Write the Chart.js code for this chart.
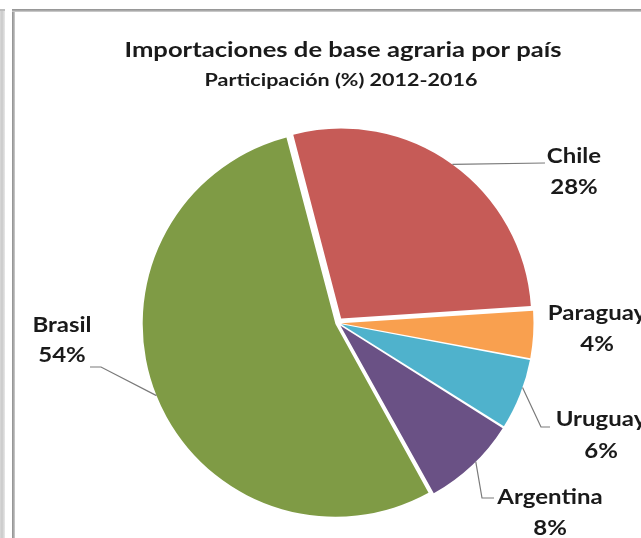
<!DOCTYPE html>
<html>
<head>
<meta charset="utf-8">
<script src="https://cdn.jsdelivr.net/npm/chart.js@4/dist/chart.umd.min.js"></script>
<style>
  html, body { margin: 0; padding: 0; background: #ffffff; overflow: hidden; }
  #wrap { position: relative; width: 641px; height: 538px; background: #fff; }
  #c { position: absolute; left: 0; top: 0; }
  .frameA { position: absolute; left: 0; top: 9px; width: 5px; height: 529px;
            background: linear-gradient(to right, #d9d9d9, #c9c9c9 40%, #e8e8e8); }
  .frameAtop { position: absolute; left: 0; top: 9px; width: 5px; height: 2px; background: #bdbdbd; }
  .frameB { position: absolute; left: 12px; top: 9px; width: 3px; height: 529px;
            background: linear-gradient(to right, #8f8f8f, #a9a9a9, #cfcfcf); }
  .frameBtop { position: absolute; left: 12px; top: 9px; width: 629px; height: 3px;
            background: linear-gradient(to bottom, #8f8f8f, #a9a9a9, #d6d6d6); }
</style>
</head>
<body>
<div id="wrap">
  <canvas id="c" width="641" height="538"></canvas>
  <div class="frameA"></div><div class="frameAtop"></div>
  <div class="frameB"></div><div class="frameBtop"></div>
</div>
<script>
// ---- data ----
const titleText = 'Importaciones de base agraria por país';
const subtitleText = 'Participación (%) 2012-2016';
const categories = ['Chile', 'Paraguay', 'Uruguay', 'Argentina', 'Brasil'];
const shares = [28, 4, 6, 8, 54];
const percentLabels = ['28%', '4%', '6%', '8%', '54%'];

// ---- style ----
const colors = ['#c65b57', '#f9a04f', '#4fb2cc', '#6a5185', '#7f9b45'];
const explodePx = 5.5;
const total = shares.reduce((a, b) => a + b, 0);
// Chart.js arc offset -> translate = offset/4 * (1 + fix), fix = 1 - sin(min(PI, circ))
const offsets = shares.map(v => {
  const circ = v / total * Math.PI * 2;
  const fix = 1 - Math.sin(Math.min(Math.PI, circ));
  return explodePx * 4 / (1 + fix);
});
// label placement (style): block center x, name y, percent y, leader start fraction, leader elbows
const labelStyle = [
  { cx: 574, ny: 157, py: 188, frac: 0.5,  path: [[545, 163]] },
  { cx: 597, ny: 314, py: 345, frac: null, path: [] },
  { cx: 601, ny: 420, py: 452, frac: 0.4,  path: [[541, 427], [550, 427]] },
  { cx: 550, ny: 498, py: 529, frac: 0.45, path: [[482, 498], [494, 498]] },
  { cx: 62,  ny: 326, py: 356, frac: 0.5,  path: [[101, 367], [90, 367]] }
];
const FONT = 'Lato, "Open Sans", sans-serif';
const LABEL_HSCALE = 1.2;

function drawStretched(ctx, text, cx, cy, font, hscale, targetWidth) {
  ctx.save();
  ctx.font = font;
  let s = hscale;
  if (targetWidth) s = targetWidth / ctx.measureText(text).width;
  ctx.translate(cx, cy);
  ctx.scale(s, 1);
  ctx.fillText(text, 0, 0);
  ctx.restore();
}

const labelsPlugin = {
  id: 'excelLabels',
  afterDatasetsDraw(chart) {
    const ctx = chart.ctx;
    const meta = chart.getDatasetMeta(0);
    ctx.save();
    ctx.fillStyle = '#1a1a1a';
    ctx.textAlign = 'center';
    ctx.textBaseline = 'middle';
    drawStretched(ctx, titleText, 343, 50, 'bold 21px ' + FONT, 1, 437);
    drawStretched(ctx, subtitleText, 341, 81, 'bold 16.5px ' + FONT, 1, 273);

    meta.data.forEach((arc, i) => {
      const p = arc.getProps(['x', 'y', 'startAngle', 'endAngle', 'outerRadius', 'circumference'], true);
      const st = labelStyle[i];
      const off = (arc.options.offset || 0) / 4;
      const fix = 1 - Math.sin(Math.min(Math.PI, p.circumference || 0));
      const t = off + off * fix;
      const half = (p.startAngle + p.endAngle) / 2;
      const ox = p.x + Math.cos(half) * t, oy = p.y + Math.sin(half) * t;
      if (st.frac !== null) {
        const a = p.startAngle + st.frac * (p.endAngle - p.startAngle);
        const sx = ox + Math.cos(a) * p.outerRadius, sy = oy + Math.sin(a) * p.outerRadius;
        ctx.beginPath();
        ctx.strokeStyle = '#7a7a7a';
        ctx.lineWidth = 1.2;
        ctx.moveTo(sx, sy);
        st.path.forEach(pt => ctx.lineTo(pt[0], pt[1]));
        ctx.stroke();
      }
      ctx.fillStyle = '#1a1a1a';
      drawStretched(ctx, categories[i], st.cx, st.ny, 'bold 20px ' + FONT, LABEL_HSCALE);
      drawStretched(ctx, percentLabels[i], st.cx, st.py, 'bold 20px ' + FONT, LABEL_HSCALE);
    });
    ctx.restore();
  }
};

new Chart(document.getElementById('c'), {
  type: 'pie',
  data: {
    labels: categories,
    datasets: [{
      data: shares,
      backgroundColor: colors,
      borderWidth: 0,
      offset: offsets,
      clip: false,
      radius: 190,
      rotation: -14.6
    }]
  },
  options: {
    responsive: false,
    animation: false,
    radius: 190,
    rotation: -14.6,
    layout: { padding: { left: 47, right: 12, top: 118, bottom: 10 } },
    plugins: {
      legend: { display: false },
      tooltip: { enabled: false },
      title: { display: false }
    }
  },
  plugins: [labelsPlugin]
});
</script>
</body>
</html>
